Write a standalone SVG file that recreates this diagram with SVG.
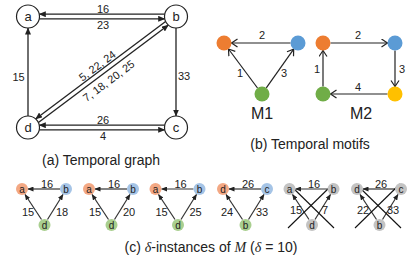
<svg xmlns="http://www.w3.org/2000/svg" width="416" height="260" viewBox="0 0 416 260">
<style>
text{font-family:"Liberation Sans",Arial,sans-serif;fill:#222;text-anchor:middle;dominant-baseline:central}
.gn{fill:#fff;stroke:#222;stroke-width:1.2}
.ge{stroke:#222;stroke-width:1.3;fill:none}
.me{stroke:#222;stroke-width:1.2;fill:none}
.ie{stroke:#333;stroke-width:1.2;fill:none}
.x{stroke:#111;stroke-width:1.1;fill:none}
.gl{font-size:12px}
.el{font-size:11px}
.nl{font-size:13px}
.il{font-size:11px}
.inl{font-size:10px}
.cap{font-size:14px}
.mt{font-size:16px}
.or{fill:#ED7D31}.bl{fill:#5B9BD5}.gr{fill:#70AD47}.ye{fill:#FFC000}
.lor{fill:#F3A884}.lbl{fill:#A5C4E6}.lgr{fill:#A9CF8F}.lgy{fill:#C3C3C3}
</style>
<defs>
<marker id="ah" markerUnits="userSpaceOnUse" markerWidth="7" markerHeight="6" refX="6.5" refY="3" orient="auto"><path d="M0,0 L7,3 L0,6 z" fill="#222"/></marker>
<marker id="oa" markerUnits="userSpaceOnUse" markerWidth="8" markerHeight="10" refX="6.5" refY="4.5" orient="auto"><path d="M0.5,0.5 L6.5,4.5 L0.5,8.5" fill="none" stroke="#222" stroke-width="1.2"/></marker>
<marker id="sa" markerUnits="userSpaceOnUse" markerWidth="6" markerHeight="5" refX="5.5" refY="2.5" orient="auto"><path d="M0,0 L6,2.5 L0,5 z" fill="#222"/></marker>
</defs>

<!-- (a) Temporal graph -->
<g id="graph-edges">
<line class="ge" x1="164.7" y1="14.2" x2="39.3" y2="14.2" marker-end="url(#ah)"/>
<line class="ge" x1="39.3" y1="18.8" x2="164.7" y2="18.8" marker-end="url(#ah)"/>
<line class="ge" x1="164.7" y1="125.2" x2="39.3" y2="125.2" marker-end="url(#ah)"/>
<line class="ge" x1="39.3" y1="129.8" x2="164.7" y2="129.8" marker-end="url(#ah)"/>
<line class="ge" x1="28" y1="116" x2="28" y2="28" marker-end="url(#ah)"/>
<line class="ge" x1="176" y1="28" x2="176" y2="116" marker-end="url(#ah)"/>
<line class="ge" x1="165.6" y1="21.4" x2="35.6" y2="118.9" marker-end="url(#ah)"/>
<line class="ge" x1="38.4" y1="122.6" x2="168.4" y2="25.1" marker-end="url(#ah)"/>
<text class="el" x="103" y="8.5">16</text>
<text class="el" x="103" y="25">23</text>
<text class="el" x="103" y="119.5">26</text>
<text class="el" x="103" y="136">4</text>
<text class="el" x="18.5" y="77">15</text>
<text class="el" x="184" y="76">33</text>
<text class="el" transform="translate(97.2,65.6) rotate(-36.87)">5, 22, 24</text>
<text class="el" transform="translate(108.6,80.8) rotate(-36.87)">7, 18, 20, 25</text>
</g>
<g id="node-a"><circle class="gn" cx="28" cy="16.5" r="11.5"/><text class="nl" x="28" y="16">a</text></g>
<g id="node-b"><circle class="gn" cx="176" cy="16.5" r="11.5"/><text class="nl" x="176" y="16">b</text></g>
<g id="node-c"><circle class="gn" cx="176" cy="127.5" r="11.5"/><text class="nl" x="176" y="127">c</text></g>
<g id="node-d"><circle class="gn" cx="28" cy="127.5" r="11.5"/><text class="nl" x="28" y="127">d</text></g>
<text class="cap" x="101" y="160">(a) Temporal graph</text>

<!-- (b) Temporal motifs -->
<g id="motif-edges">
<line class="me" x1="290.5" y1="43" x2="231.5" y2="43" marker-end="url(#oa)"/>
<line class="me" x1="257.5" y1="88" x2="228.5" y2="49" marker-end="url(#oa)"/>
<line class="me" x1="266.3" y1="87.9" x2="293.7" y2="49.1" marker-end="url(#oa)"/>
<line class="me" x1="330.5" y1="43" x2="387.5" y2="43" marker-end="url(#oa)"/>
<line class="me" x1="395" y1="50.5" x2="395" y2="86.5" marker-end="url(#oa)"/>
<line class="me" x1="387.5" y1="94" x2="330.5" y2="94" marker-end="url(#oa)"/>
<line class="me" x1="323" y1="86.5" x2="323" y2="50.5" marker-end="url(#oa)"/>
<text class="el" x="262" y="35">2</text>
<text class="el" x="240" y="73">1</text>
<text class="el" x="284" y="73">3</text>
<text class="el" x="358" y="35">2</text>
<text class="el" x="402" y="69">3</text>
<text class="el" x="358" y="87">4</text>
<text class="el" x="317" y="69">1</text>
</g>
<g id="m1-orange"><circle class="or" cx="224" cy="43" r="7.5"/></g>
<g id="m1-blue"><circle class="bl" cx="298" cy="43" r="7.5"/></g>
<g id="m1-green"><circle class="gr" cx="262" cy="94" r="7.5"/></g>
<g id="m2-orange"><circle class="or" cx="323" cy="43" r="7.5"/></g>
<g id="m2-blue"><circle class="bl" cx="395" cy="43" r="7.5"/></g>
<g id="m2-yellow"><circle class="ye" cx="395" cy="94" r="7.5"/></g>
<g id="m2-green"><circle class="gr" cx="323" cy="94" r="7.5"/></g>
<text class="mt" x="262" y="113">M1</text>
<text class="mt" x="361" y="113">M2</text>
<text class="cap" x="310" y="144">(b) Temporal motifs</text>

<!-- (c) delta-instances -->
<g id="instance-edges">
<line class="ie" x1="60" y1="189" x2="28" y2="189" marker-end="url(#sa)"/>
<line class="ie" x1="41.5" y1="219.5" x2="25" y2="194.5" marker-end="url(#sa)"/>
<line class="ie" x1="47.5" y1="219.5" x2="63" y2="194.5" marker-end="url(#sa)"/>
<text class="il" x="47" y="184">16</text><text class="il" x="28" y="212">15</text><text class="il" x="62" y="212">18</text>

<line class="ie" x1="127" y1="189" x2="95" y2="189" marker-end="url(#sa)"/>
<line class="ie" x1="108.5" y1="219.5" x2="92" y2="194.5" marker-end="url(#sa)"/>
<line class="ie" x1="114.5" y1="219.5" x2="130" y2="194.5" marker-end="url(#sa)"/>
<text class="il" x="114" y="184">16</text><text class="il" x="95" y="212">15</text><text class="il" x="129" y="212">20</text>

<line class="ie" x1="193.5" y1="189" x2="161.5" y2="189" marker-end="url(#sa)"/>
<line class="ie" x1="175" y1="219.5" x2="158.5" y2="194.5" marker-end="url(#sa)"/>
<line class="ie" x1="181" y1="219.5" x2="196.5" y2="194.5" marker-end="url(#sa)"/>
<text class="il" x="180.5" y="184">16</text><text class="il" x="161.5" y="212">15</text><text class="il" x="195.5" y="212">25</text>

<line class="ie" x1="261" y1="189" x2="229" y2="189" marker-end="url(#sa)"/>
<line class="ie" x1="242.5" y1="219.5" x2="226" y2="194.5" marker-end="url(#sa)"/>
<line class="ie" x1="248.5" y1="219.5" x2="264" y2="194.5" marker-end="url(#sa)"/>
<text class="il" x="248" y="184">26</text><text class="il" x="227" y="212">24</text><text class="il" x="262" y="212">33</text>

<line class="ie" x1="327.5" y1="189" x2="295.5" y2="189" marker-end="url(#sa)"/>
<line class="ie" x1="309" y1="219.5" x2="292.5" y2="194.5" marker-end="url(#sa)"/>
<line class="ie" x1="315" y1="219.5" x2="330.5" y2="194.5" marker-end="url(#sa)"/>
<line class="x" x1="289" y1="184" x2="334" y2="228"/>
<line class="x" x1="333" y1="184" x2="288" y2="228"/>
<text class="il" x="296" y="210">15</text><text class="il" x="325" y="210">7</text><text class="il" x="314" y="184">16</text>

<line class="ie" x1="395" y1="189" x2="363" y2="189" marker-end="url(#sa)"/>
<line class="ie" x1="376.5" y1="219.5" x2="360" y2="194.5" marker-end="url(#sa)"/>
<line class="ie" x1="382.5" y1="219.5" x2="398" y2="194.5" marker-end="url(#sa)"/>
<line class="x" x1="356" y1="184" x2="401" y2="228"/>
<line class="x" x1="400" y1="184" x2="355" y2="228"/>
<text class="il" x="363" y="210">22</text><text class="il" x="393" y="210">33</text><text class="il" x="381" y="184">26</text>
</g>
<g id="i1-a"><circle class="lor" cx="22" cy="189" r="6"/><text class="inl" x="22" y="189.5">a</text></g>
<g id="i1-b"><circle class="lbl" cx="66" cy="189" r="6"/><text class="inl" x="66" y="189.5">b</text></g>
<g id="i1-d"><circle class="lgr" cx="44.5" cy="225" r="6"/><text class="inl" x="44.5" y="225.5">d</text></g>
<g id="i2-a"><circle class="lor" cx="89" cy="189" r="6"/><text class="inl" x="89" y="189.5">a</text></g>
<g id="i2-b"><circle class="lbl" cx="133" cy="189" r="6"/><text class="inl" x="133" y="189.5">b</text></g>
<g id="i2-d"><circle class="lgr" cx="111.5" cy="225" r="6"/><text class="inl" x="111.5" y="225.5">d</text></g>
<g id="i3-a"><circle class="lor" cx="155.5" cy="189" r="6"/><text class="inl" x="155.5" y="189.5">a</text></g>
<g id="i3-b"><circle class="lbl" cx="199.5" cy="189" r="6"/><text class="inl" x="199.5" y="189.5">b</text></g>
<g id="i3-d"><circle class="lgr" cx="178" cy="225" r="6"/><text class="inl" x="178" y="225.5">d</text></g>
<g id="i4-d"><circle class="lor" cx="223" cy="189" r="6"/><text class="inl" x="223" y="189.5">d</text></g>
<g id="i4-c"><circle class="lbl" cx="267" cy="189" r="6"/><text class="inl" x="267" y="189.5">c</text></g>
<g id="i4-b"><circle class="lgr" cx="245.5" cy="225" r="6"/><text class="inl" x="245.5" y="225.5">b</text></g>
<g id="i5-a"><circle class="lgy" cx="289.5" cy="189" r="6"/><text class="inl" x="289.5" y="189.5">a</text></g>
<g id="i5-b"><circle class="lgy" cx="333.5" cy="189" r="6"/><text class="inl" x="333.5" y="189.5">b</text></g>
<g id="i5-d"><circle class="lgy" cx="312" cy="225" r="6"/><text class="inl" x="312" y="225.5">d</text></g>
<g id="i6-d"><circle class="lgy" cx="357" cy="189" r="6"/><text class="inl" x="357" y="189.5">d</text></g>
<g id="i6-c"><circle class="lgy" cx="401" cy="189" r="6"/><text class="inl" x="401" y="189.5">c</text></g>
<g id="i6-b"><circle class="lgy" cx="379.5" cy="225" r="6"/><text class="inl" x="379.5" y="225.5">b</text></g>
<text class="cap" x="211" y="247">(c) <tspan font-family="Liberation Serif,serif" font-style="italic">δ</tspan>-instances of <tspan font-family="Liberation Serif,serif" font-style="italic">M</tspan> (<tspan font-family="Liberation Serif,serif" font-style="italic">δ</tspan> = 10)</text>
</svg>
